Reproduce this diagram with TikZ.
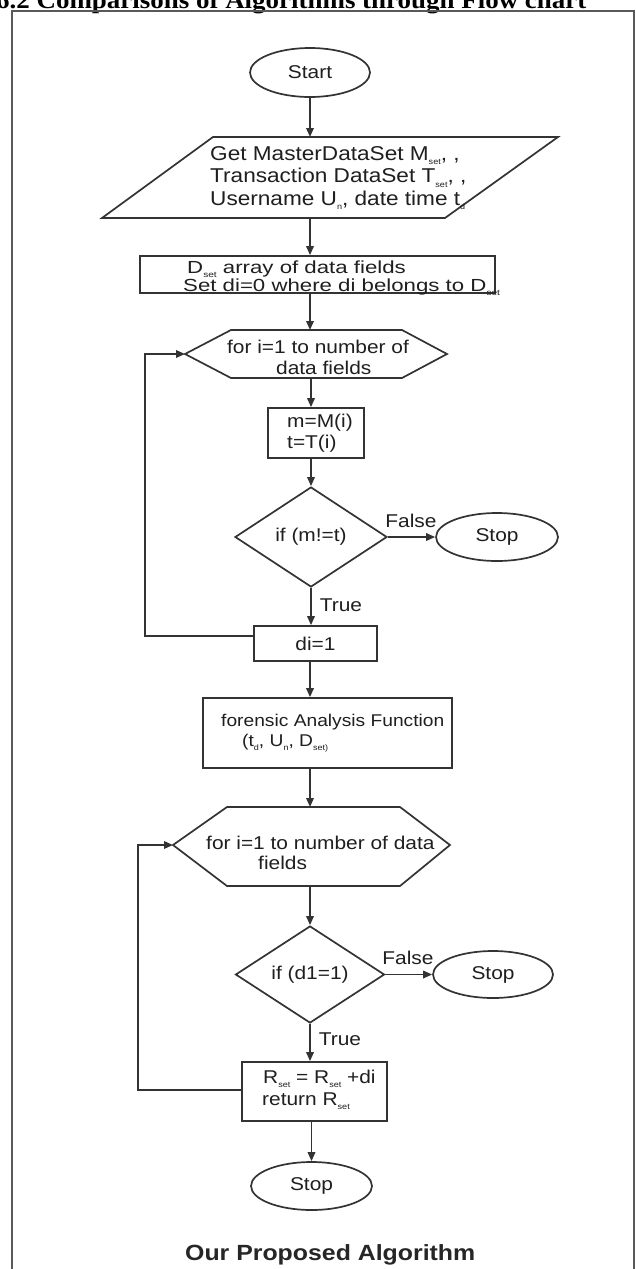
\documentclass[tikz,border=0pt]{standalone}
\usepackage{fontspec}
\setmainfont{Liberation Sans}[FakeStretch=1.13]
\newfontfamily\widesans{Liberation Sans}[FakeStretch=1.27]
\newfontfamily\titlefont{Liberation Serif}[FakeStretch=1.1]
\usetikzlibrary{shapes.geometric,arrows.meta,calc}
\newcommand\lsub[1]{\raisebox{-0.22em}{\fontsize{8}{8}\selectfont #1}}
\tikzset{
  ln/.style={draw=black!80, line width=1.7pt},
  arr/.style={ln, -{Triangle[length=9pt,width=7.5pt]}},
  term/.style={ln, ellipse, inner sep=0pt, text=black!88, font=\fontsize{18.5}{21}\selectfont},
  procbox/.style={ln, rectangle, inner sep=0pt, text=black!88, font=\fontsize{18.5}{21}\selectfont},
  decide/.style={ln, diamond, inner sep=0pt, text=black!88, font=\fontsize{18.5}{21}\selectfont},
  txt/.style={inner sep=0pt, text=black!88, font=\fontsize{18.5}{21}\selectfont},
  bigtxt/.style={inner sep=0pt, text=black!88, font=\fontsize{20}{22.5}\selectfont},
  widetxt/.style={inner sep=0pt, text=black!88, font=\widesans\fontsize{17.5}{18}\selectfont},
  smalltxt/.style={inner sep=0pt, text=black!88, font=\fontsize{17}{20}\selectfont},
}
\begin{document}
\begin{tikzpicture}[x=1pt,y=-1pt]
\useasboundingbox (0,0) rectangle (636,1269);
\clip (0,0) rectangle (636,1269);
\fill[white] (0,0) rectangle (636,1269);
% title (cut at top)
\node[anchor=base west, inner sep=0pt, font=\titlefont\bfseries\fontsize{24.5}{24.5}\selectfont] (title) at (-4,8) {6.2 Comparisons of Algorithms through Flow chart};
% frame
\draw[draw=black!65, line width=2pt] (12,1285) -- (12,11) -- (634,11) -- (634,1285);
\coordinate (sp) at (311,0);
% start
\node[term, minimum width=120pt, minimum height=49pt] (start) at (310,72.5) {Start};
% input parallelogram
\draw[ln] (102,218) -- (213,137) -- (558,137) -- (445,218) -- cycle;
\coordinate (parTop) at (310,137);
\coordinate (parBot) at (310,218);
\node[bigtxt, anchor=west, align=left] (partext) at (210,178) {Get MasterDataSet M\lsub{set}, ,\\Transaction DataSet T\lsub{set}, ,\\Username U\lsub{n}, date time t\lsub{d}};
% Dset box
\node[procbox, minimum width=355pt, minimum height=37pt] (dset) at (317.5,274.5) {};
\node[widetxt, anchor=base west] (dsetA) at (187,273.5) {D\lsub{set} array of data fields};
\node[widetxt, anchor=base west] (dsetB) at (183,291.5) {Set di=0 where di belongs to D\lsub{set}};
% hexagon 1
\draw[ln] (185,354) -- (231,330) -- (402,330) -- (447,354) -- (402,378) -- (231,378) -- cycle;
\coordinate (h1top) at (310,330);
\coordinate (h1bot) at (311,378);
\coordinate (h1left) at (185,354);
\node[txt, align=center] (h1text) at (318,357) {for i=1 to number of\\\ \ data fields};
% m box
\node[procbox, minimum width=96pt, minimum height=50pt] (mbox) at (316,433) {};
\node[txt, anchor=west, align=left] (mtext) at (287,433) {m=M(i)\\t=T(i)};
% decision 1
\node[decide, minimum width=152pt, minimum height=100pt] (d1) at (311,537) {if (m!=t)};
\node[term, minimum width=122pt, minimum height=48pt] (stop1) at (497,537) {Stop};
\node[txt] (f1) at (411,521) {False};
\node[txt] (t1) at (341,605) {True};
% di box
\node[procbox, minimum width=123pt, minimum height=35pt] (di) at (315.5,643.5) {di=1};
% forensic box
\node[procbox, minimum width=249pt, minimum height=70pt] (fa) at (327.5,733) {};
\node[smalltxt, anchor=west] (faA) at (221,722) {forensic Analysis Function};
\node[smalltxt, anchor=west] (faB) at (242,743) {(t\lsub{d}, U\lsub{n}, D\lsub{set)}};
% hexagon 2
\draw[ln] (173,845) -- (227,807) -- (400,807) -- (450,845) -- (400,886) -- (227,886) -- cycle;
\coordinate (h2top) at (310,807);
\coordinate (h2bot) at (310,886);
\coordinate (h2left) at (173,845);
\node[txt, anchor=west] (h2a) at (206,843) {for i=1 to number of data};
\node[txt, anchor=west] (h2b) at (258,863) {fields};
% decision 2
\node[decide, minimum width=149pt, minimum height=97pt] (d2) at (310,974.5) {if (d1=1)};
\node[term, minimum width=120pt, minimum height=47pt] (stop2) at (493,974.5) {Stop};
\node[txt] (f2) at (408,958) {False};
\node[txt] (t2) at (340,1039) {True};
% result box
\node[procbox, minimum width=145pt, minimum height=59pt] (rbox) at (314.5,1091.5) {};
\node[txt, anchor=west] (rA) at (263,1079) {R\lsub{set} = R\lsub{set} +di};
\node[txt, anchor=west] (rB) at (262,1101) {return R\lsub{set}};
% final stop
\node[term, minimum width=121pt, minimum height=48pt] (stop3) at (311.5,1186) {Stop};
% caption
\node[anchor=base west, inner sep=0pt, text=black!85, font=\bfseries\fontsize{22}{22}\selectfont] (cap) at (185,1260) {Our Proposed Algorithm};
% connectors
\draw[arr] (start.south -| parTop) -- (parTop);
\draw[arr] (parBot) -- (parBot |- dset.north);
\draw[arr] (dset.south -| h1top) -- (h1top);
\draw[arr] (h1bot) -- (h1bot |- mbox.north);
\draw[arr] (mbox.south -| d1.north) -- (d1.north);
\draw[arr] (d1.east) -- (stop1.west);
\draw[arr] (d1.south) -- (d1.south |- di.north);
\draw[arr] ([yshift=7.5pt]di.west) -| ($(h1left)+(-40,0)$) -- (h1left);
\draw[arr] (di.south -| h2top) -- (fa.north -| h2top);
\draw[arr] (fa.south -| h2top) -- (h2top);
\draw[arr] (h2bot) -- (d2.north);
\draw[arr] (d2.east) -- (stop2.west);
\draw[arr] (d2.south) -- (d2.south |- rbox.north);
\draw[arr] ([yshift=1.5pt]rbox.west) -| ($(h2left)+(-35,0)$) -- (h2left);
\draw[arr] (rbox.south -| stop3.north) -- (stop3.north);
\end{tikzpicture}
\end{document}
